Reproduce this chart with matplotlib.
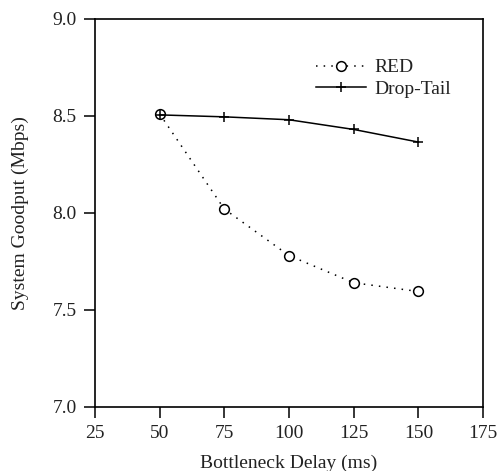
import matplotlib
matplotlib.use('Agg')
import matplotlib.pyplot as plt

delay = [50, 75, 100, 125, 150]
red = [8.51, 8.02, 7.78, 7.64, 7.595]
droptail = [8.505, 8.495, 8.48, 8.43, 8.365]

plt.rcParams['font.family'] = ['Liberation Serif', 'DejaVu Serif']
fontsize = 14
textcolor = '#222222'

fig = plt.figure(figsize=(4.97, 4.71), dpi=100)
ax = fig.add_axes([0.191, 0.136, 0.781, 0.824])
ax.plot(delay, red, linestyle=(0, (1, 4)), color='k', linewidth=1.1,
        marker='o', markersize=7, markerfacecolor='white', markeredgewidth=1.1,
        label='RED')
ax.plot(delay, droptail, linestyle='-', color='k', linewidth=1.1,
        marker='+', markersize=7, markeredgewidth=1.1, label='Drop-Tail')
ax.set_xlim(25, 175)
ax.set_ylim(7.0, 9.0)
ax.set_xticks([25, 50, 75, 100, 125, 150, 175])
ax.set_yticks([7.0, 7.5, 8.0, 8.5, 9.0])
ax.set_yticklabels(['7.0', '7.5', '8.0', '8.5', '9.0'])
for s in ax.spines.values():
    s.set_linewidth(1.2)
ax.tick_params(axis='both', direction='out', length=8, width=1.1, pad=5,
               labelsize=fontsize, labelcolor=textcolor)
ax.tick_params(top=False, right=False)
ax.set_xlabel('Bottleneck Delay (ms)', fontsize=fontsize, color=textcolor, labelpad=9)
ax.set_ylabel('System Goodput (Mbps)', fontsize=fontsize, color=textcolor, labelpad=17)
leg = ax.legend(loc='upper right', bbox_to_anchor=(0.962, 0.942), frameon=False,
                fontsize=fontsize, handlelength=2.6, handletextpad=0.4,
                labelspacing=0.2)
for t in leg.get_texts():
    t.set_color(textcolor)
plt.savefig('out.png', dpi=100)
